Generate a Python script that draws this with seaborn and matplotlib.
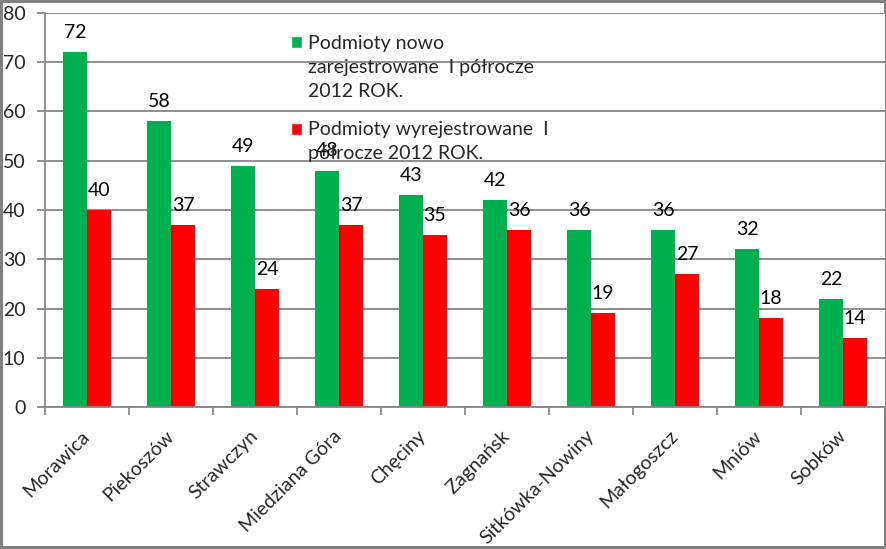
import pandas as pd
import seaborn as sns
import matplotlib.pyplot as plt
from matplotlib.patches import Patch, Rectangle
from matplotlib.legend_handler import HandlerPatch

gminy = ["Morawica", "Piekoszów", "Strawczyn", "Miedziana Góra", "Chęciny",
         "Zagnańsk", "Sitkówka-Nowiny", "Małogoszcz", "Mniów", "Sobków"]
nowe = [72, 58, 49, 48, 43, 42, 36, 36, 32, 22]
wyrej = [40, 37, 24, 37, 35, 36, 19, 27, 18, 14]
serie = ["Podmioty nowo\nzarejestrowane  I półrocze\n2012 ROK.",
         "Podmioty wyrejestrowane  I\npółrocze 2012 ROK."]
kolory = ["#00B050", "#FF0000"]
y_ticks = [0, 10, 20, 30, 40, 50, 60, 70, 80]

df = pd.DataFrame({
    "gmina": gminy * 2,
    "liczba": nowe + wyrej,
    "seria": [serie[0]] * len(gminy) + [serie[1]] * len(gminy),
})

sns.set_style("white")
plt.rcParams["font.family"] = ["Lato", "DejaVu Sans"]
FS = 14
LS = 1.5
GRAY = "#868686"

fig = plt.figure(figsize=(8.87, 5.49), dpi=100)
ax = fig.add_axes([45 / 887, 1 - 407 / 549, 840 / 887, 394 / 549])

sns.barplot(data=df, x="gmina", y="liczba", hue="seria", palette=kolory,
            width=0.571, gap=0, saturation=1, linewidth=0, ax=ax, legend=False)

for cont in ax.containers:
    ax.bar_label(cont, fontsize=FS, padding=8, color="black")

ax.set_ylim(0, 80)
ax.set_xlim(-0.5, len(gminy) - 0.5)
ax.set_yticks(y_ticks)
ax.set_xlabel("")
ax.set_ylabel("")
ax.yaxis.grid(True, color=GRAY, linewidth=1.3)
ax.set_axisbelow(True)
for side in ["top", "right"]:
    ax.spines[side].set_visible(False)
for side in ["left", "bottom"]:
    ax.spines[side].set_color(GRAY)
    ax.spines[side].set_linewidth(1.3)

ax.tick_params(axis="y", left=True, length=6, width=1.3, color=GRAY,
               labelsize=FS, pad=8)
ax.set_xticks(range(len(gminy)))
ax.set_xticks([i - 0.5 for i in range(len(gminy) + 1)], minor=True)
ax.tick_params(axis="x", which="major", length=0, pad=19)
ax.tick_params(axis="x", which="minor", bottom=True, length=6, width=1.3, color=GRAY)
ax.set_xticklabels(gminy, rotation=45, ha="right", va="center",
                   rotation_mode="anchor", fontsize=FS)


def square_top(legend, orig_handle, xdescent, ydescent, width, height, fontsize):
    # put the square next to the first line of a wrapped label
    n = orig_handle.get_label().count("\n") + 1
    shift = (n - 1) * fontsize * LS * 0.88 / 2
    return Rectangle((-xdescent, -ydescent + shift), width, height)


handles = [Patch(facecolor=c, label=s) for c, s in zip(kolory, serie)]
leg = ax.legend(handles=handles, loc="upper left", bbox_to_anchor=(0.293, 0.945),
                frameon=False, fontsize=FS, handlelength=0.57, handleheight=0.57,
                handletextpad=0.31, labelspacing=1.1, borderpad=0, borderaxespad=0,
                handler_map={Patch: HandlerPatch(patch_func=square_top)})
for t in leg.get_texts():
    t.set_linespacing(LS)

fig.patch.set_edgecolor("#808080")
fig.patch.set_linewidth(4)

fig.savefig("out.png", dpi=100)
